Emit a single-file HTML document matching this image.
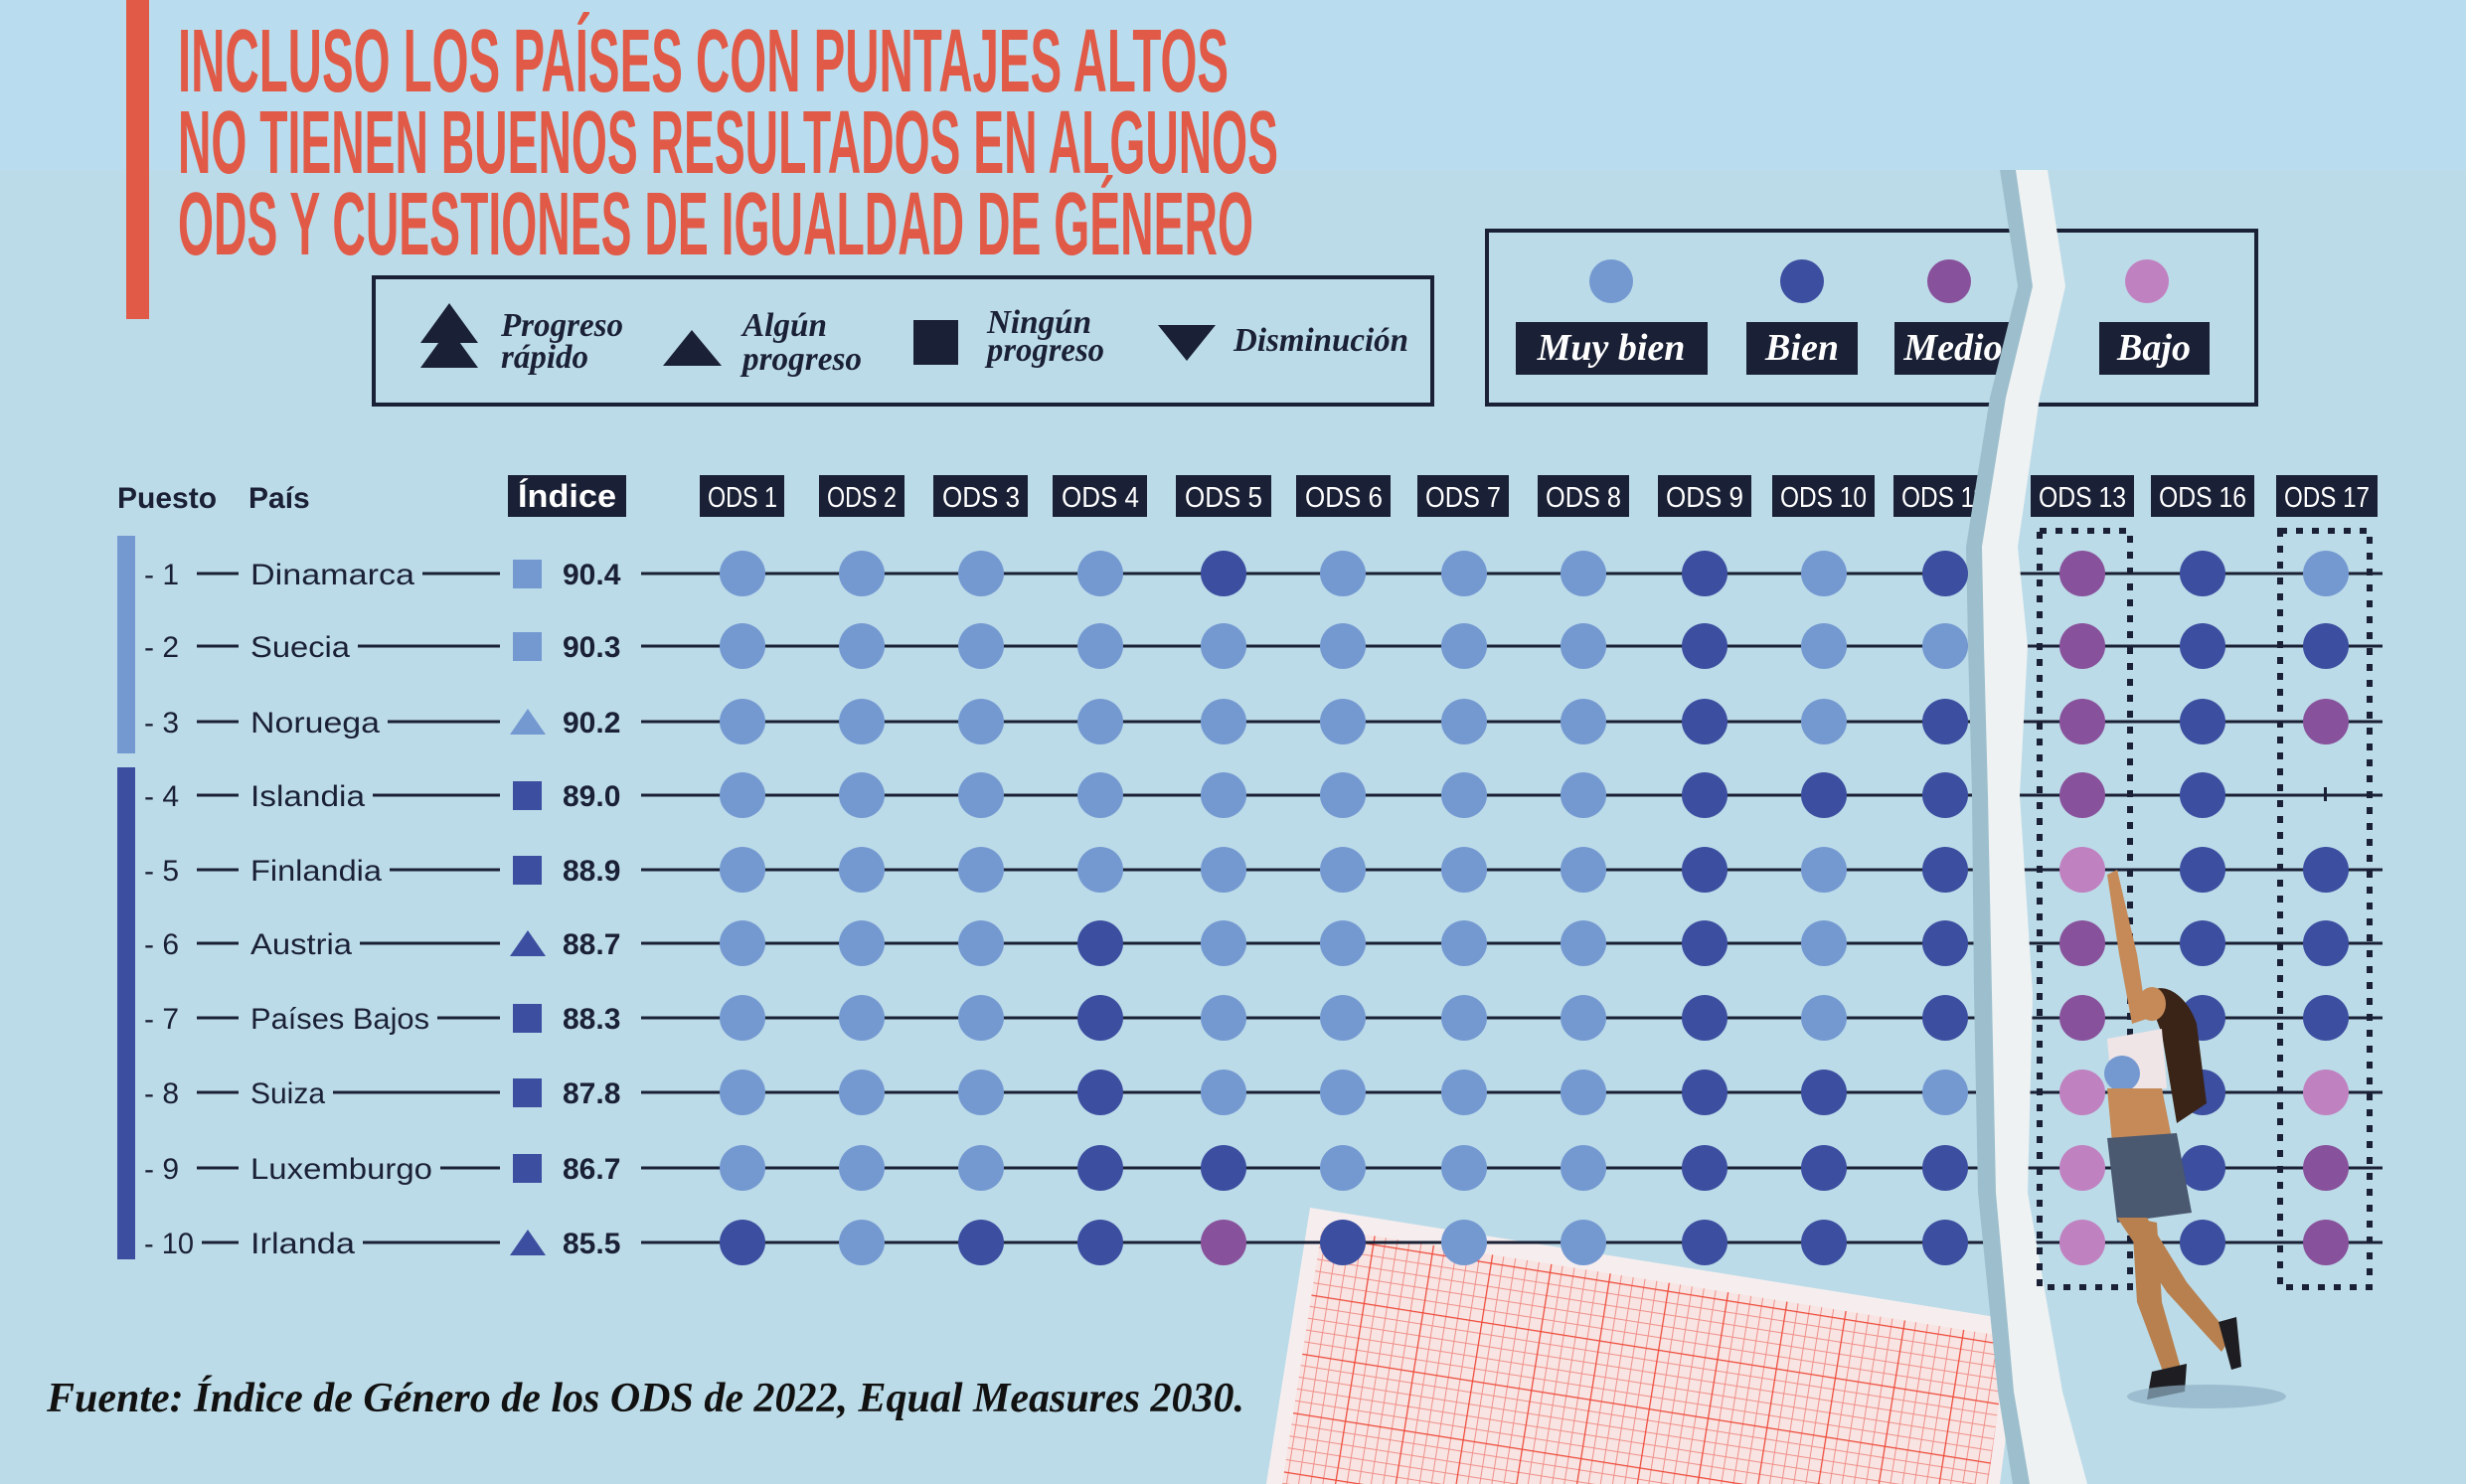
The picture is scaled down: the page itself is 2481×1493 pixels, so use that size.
<!DOCTYPE html>
<html><head><meta charset="utf-8"><style>
html,body{margin:0;padding:0;background:#bcdce9}
svg{display:block}
.s{font-family:"Liberation Sans",sans-serif}
.r{font-family:"Liberation Serif",serif;font-style:italic;font-weight:bold}
.L{fill:#7499d1}.B{fill:#3b4ea0}.M{fill:#88519b}.P{fill:#c081c0}
</style></head><body>
<svg width="2481" height="1493" viewBox="0 0 2481 1493" xmlns="http://www.w3.org/2000/svg">
<rect width="2481" height="1493" fill="#bcdbe8"/>
<rect width="2481" height="171" fill="#b9ddee"/>
<rect x="127" y="0" width="23" height="321" fill="#e05a47"/>
<g class="s" font-weight="bold" font-size="90" fill="#e05a47">
<text x="179" y="92" textLength="1057" lengthAdjust="spacingAndGlyphs">INCLUSO LOS PAÍSES CON PUNTAJES ALTOS</text>
<text x="179" y="174" textLength="1107" lengthAdjust="spacingAndGlyphs">NO TIENEN BUENOS RESULTADOS EN ALGUNOS</text>
<text x="179" y="256" textLength="1082" lengthAdjust="spacingAndGlyphs">ODS Y CUESTIONES DE IGUALDAD DE GÉNERO</text>
</g>
<!-- graph paper -->
<polygon points="1318,1215 2033,1329 2012,1493 1274,1493" fill="#f6eeee"/>
<defs><pattern id="gp" width="60" height="60" patternUnits="userSpaceOnUse" patternTransform="rotate(9)">
<rect width="60" height="60" fill="#f8e4e2"/>
<path d="M0 0H60M0 12H60M0 24H60M0 36H60M0 48H60M0 0V60M12 0V60M24 0V60M36 0V60M48 0V60" stroke="#f0908a" stroke-width="1"/>
<path d="M0 0H60M0 0V60" stroke="#ee4a3a" stroke-width="2.5"/></pattern></defs>
<polygon points="1330,1235 2020,1345 2000,1493 1290,1493" fill="url(#gp)"/>
<!-- legend 1 -->
<rect x="376" y="279" width="1065" height="128" fill="none" stroke="#1a2035" stroke-width="4"/>
<g fill="#1a2035">
<polygon points="452,305 481,345 423,345"/><polygon points="452,330 481,370 423,370"/>
<polygon points="696,332 726,368 667,368"/>
<rect x="919" y="322" width="45" height="45"/>
<polygon points="1165,327 1223,327 1194,363"/>
</g>
<g class="r" font-size="34" fill="#1a2035">
<text x="504" y="338" textLength="123" lengthAdjust="spacingAndGlyphs">Progreso</text>
<text x="504" y="370" textLength="88" lengthAdjust="spacingAndGlyphs">rápido</text>
<text x="747" y="338" textLength="85" lengthAdjust="spacingAndGlyphs">Algún</text>
<text x="747" y="372" textLength="120" lengthAdjust="spacingAndGlyphs">progreso</text>
<text x="993" y="335" textLength="105" lengthAdjust="spacingAndGlyphs">Ningún</text>
<text x="993" y="363" textLength="118" lengthAdjust="spacingAndGlyphs">progreso</text>
<text x="1241" y="353" textLength="176" lengthAdjust="spacingAndGlyphs">Disminución</text>
</g>
<!-- legend 2 -->
<rect x="1496" y="232" width="774" height="175" fill="none" stroke="#1a2035" stroke-width="4"/>
<circle cx="1621" cy="283" r="22" class="L"/><circle cx="1813" cy="283" r="22" class="B"/>
<circle cx="1961" cy="283" r="22" class="M"/><circle cx="2160" cy="283" r="22" class="P"/>
<g fill="#1a2035"><rect x="1525" y="324" width="193" height="53"/><rect x="1757" y="324" width="112" height="53"/><rect x="1906" y="324" width="118" height="53"/><rect x="2112" y="324" width="111" height="53"/></g>
<g class="r" font-size="38" fill="#fff" text-anchor="middle">
<text x="1621" y="362">Muy bien</text><text x="1813" y="362">Bien</text><text x="1965" y="362">Medio</text><text x="2167" y="362">Bajo</text>
</g>
<!-- header -->
<g class="s" font-weight="bold" font-size="30" fill="#1a2035">
<text x="118" y="511">Puesto</text><text x="250" y="511">País</text></g>
<g fill="#1a2035">
<rect x="511" y="478" width="119" height="42"/>
<rect x="704" y="478" width="85" height="42"/><rect x="824" y="478" width="86" height="42"/><rect x="939" y="478" width="95" height="42"/><rect x="1059" y="478" width="95" height="42"/><rect x="1183" y="478" width="96" height="42"/><rect x="1304" y="478" width="95" height="42"/><rect x="1426" y="478" width="92" height="42"/><rect x="1547" y="478" width="92" height="42"/><rect x="1668" y="478" width="94" height="42"/><rect x="1783" y="478" width="103" height="42"/><rect x="1905" y="478" width="103" height="42"/><rect x="2043" y="478" width="104" height="42"/><rect x="2164" y="478" width="104" height="42"/><rect x="2290" y="478" width="102" height="42"/>
</g>
<g class="s" font-size="29" fill="#fff">
<text x="521" y="510" font-weight="bold" font-size="32" textLength="99" lengthAdjust="spacingAndGlyphs">Índice</text>
<text x="712" y="510" textLength="70" lengthAdjust="spacingAndGlyphs">ODS 1</text>
<text x="832" y="510" textLength="70" lengthAdjust="spacingAndGlyphs">ODS 2</text>
<text x="948" y="510" textLength="78" lengthAdjust="spacingAndGlyphs">ODS 3</text>
<text x="1068" y="510" textLength="78" lengthAdjust="spacingAndGlyphs">ODS 4</text>
<text x="1192" y="510" textLength="78" lengthAdjust="spacingAndGlyphs">ODS 5</text>
<text x="1313" y="510" textLength="78" lengthAdjust="spacingAndGlyphs">ODS 6</text>
<text x="1434" y="510" textLength="76" lengthAdjust="spacingAndGlyphs">ODS 7</text>
<text x="1555" y="510" textLength="76" lengthAdjust="spacingAndGlyphs">ODS 8</text>
<text x="1676" y="510" textLength="78" lengthAdjust="spacingAndGlyphs">ODS 9</text>
<text x="1791" y="510" textLength="87" lengthAdjust="spacingAndGlyphs">ODS 10</text>
<text x="1913" y="510" textLength="85" lengthAdjust="spacingAndGlyphs">ODS 11</text>
<text x="2051" y="510" textLength="88" lengthAdjust="spacingAndGlyphs">ODS 13</text>
<text x="2172" y="510" textLength="88" lengthAdjust="spacingAndGlyphs">ODS 16</text>
<text x="2298" y="510" textLength="86" lengthAdjust="spacingAndGlyphs">ODS 17</text>
</g>
<!-- left bars -->
<rect x="118" y="539" width="18" height="219" fill="#7499d1"/>
<rect x="118" y="772" width="18" height="495" fill="#3b4ea0"/>
<!-- rows lines -->
<g stroke="#1a2035" stroke-width="3">
<path d="M198 577H240M425 577H503M645 577H2397"/>
<path d="M198 650H240M360 650H503M645 650H2397"/>
<path d="M198 726H240M390 726H503M645 726H2397"/>
<path d="M198 800H240M375 800H503M645 800H2397"/>
<path d="M198 875H240M392 875H503M645 875H2397"/>
<path d="M198 949H240M362 949H503M645 949H2397"/>
<path d="M198 1024H240M440 1024H503M645 1024H2397"/>
<path d="M198 1099H240M335 1099H503M645 1099H2397"/>
<path d="M198 1175H240M443 1175H503M645 1175H2397"/>
<path d="M203 1250H240M365 1250H503M645 1250H2397"/>
</g>
<g class="s" font-size="30" fill="#1a2035">
<text x="145" y="588">- 1</text><text x="252" y="588" textLength="165" lengthAdjust="spacingAndGlyphs">Dinamarca</text>
<text x="145" y="661">- 2</text><text x="252" y="661" textLength="100" lengthAdjust="spacingAndGlyphs">Suecia</text>
<text x="145" y="737">- 3</text><text x="252" y="737" textLength="130" lengthAdjust="spacingAndGlyphs">Noruega</text>
<text x="145" y="811">- 4</text><text x="252" y="811" textLength="115" lengthAdjust="spacingAndGlyphs">Islandia</text>
<text x="145" y="886">- 5</text><text x="252" y="886" textLength="132" lengthAdjust="spacingAndGlyphs">Finlandia</text>
<text x="145" y="960">- 6</text><text x="252" y="960" textLength="102" lengthAdjust="spacingAndGlyphs">Austria</text>
<text x="145" y="1035">- 7</text><text x="252" y="1035" textLength="180" lengthAdjust="spacingAndGlyphs">Países Bajos</text>
<text x="145" y="1110">- 8</text><text x="252" y="1110" textLength="75" lengthAdjust="spacingAndGlyphs">Suiza</text>
<text x="145" y="1186">- 9</text><text x="252" y="1186" textLength="183" lengthAdjust="spacingAndGlyphs">Luxemburgo</text>
<text x="145" y="1261" textLength="50" lengthAdjust="spacingAndGlyphs">- 10</text><text x="252" y="1261" textLength="105" lengthAdjust="spacingAndGlyphs">Irlanda</text>
</g>
<g class="s" font-size="30" font-weight="bold" fill="#1a2035">
<text x="566" y="588">90.4</text><text x="566" y="661">90.3</text><text x="566" y="737">90.2</text><text x="566" y="811">89.0</text><text x="566" y="886">88.9</text><text x="566" y="960">88.7</text><text x="566" y="1035">88.3</text><text x="566" y="1110">87.8</text><text x="566" y="1186">86.7</text><text x="566" y="1261">85.5</text>
</g>
<rect x="516" y="563" width="29" height="29" class="L"/>
<rect x="516" y="636" width="29" height="29" class="L"/>
<polygon points="531,713 549,739 513,739" class="L"/>
<rect x="516" y="786" width="29" height="29" class="B"/>
<rect x="516" y="861" width="29" height="29" class="B"/>
<polygon points="531,936 549,962 513,962" class="B"/>
<rect x="516" y="1010" width="29" height="29" class="B"/>
<rect x="516" y="1085" width="29" height="29" class="B"/>
<rect x="516" y="1161" width="29" height="29" class="B"/>
<polygon points="531,1237 549,1263 513,1263" class="B"/>
<!-- torn strip -->
<path d="M2012,171 L2030,288 L2002,400 L1978,550 L1980,650 L1984,800 L1986,1000 L1990,1200 L2010,1400 L2025,1493 L2045,1493 L2030,1400 L2012,1200 L2008,1000 L2006,800 L2002,650 L2000,550 L2025,400 L2048,288 L2030,171Z" fill="#9dbfcd"/>
<path d="M2028,171 L2045,288 L2018,400 L1994,550 L1996,650 L2000,800 L2004,1000 L2008,1200 L2026,1400 L2042,1493 L2100,1493 L2075,1400 L2040,1200 L2045,1000 L2032,800 L2040,650 L2030,550 L2052,400 L2078,288 L2060,171Z" fill="#eef2f3"/>
<!-- circles -->
<g>
<circle cx="747" cy="577" r="23" class="L"/><circle cx="867" cy="577" r="23" class="L"/><circle cx="987" cy="577" r="23" class="L"/><circle cx="1107" cy="577" r="23" class="L"/><circle cx="1231" cy="577" r="23" class="B"/><circle cx="1351" cy="577" r="23" class="L"/><circle cx="1473" cy="577" r="23" class="L"/><circle cx="1593" cy="577" r="23" class="L"/><circle cx="1715" cy="577" r="23" class="B"/><circle cx="1835" cy="577" r="23" class="L"/><circle cx="1957" cy="577" r="23" class="B"/><circle cx="2095" cy="577" r="23" class="M"/><circle cx="2216" cy="577" r="23" class="B"/><circle cx="2340" cy="577" r="23" class="L"/>
<circle cx="747" cy="650" r="23" class="L"/><circle cx="867" cy="650" r="23" class="L"/><circle cx="987" cy="650" r="23" class="L"/><circle cx="1107" cy="650" r="23" class="L"/><circle cx="1231" cy="650" r="23" class="L"/><circle cx="1351" cy="650" r="23" class="L"/><circle cx="1473" cy="650" r="23" class="L"/><circle cx="1593" cy="650" r="23" class="L"/><circle cx="1715" cy="650" r="23" class="B"/><circle cx="1835" cy="650" r="23" class="L"/><circle cx="1957" cy="650" r="23" class="L"/><circle cx="2095" cy="650" r="23" class="M"/><circle cx="2216" cy="650" r="23" class="B"/><circle cx="2340" cy="650" r="23" class="B"/>
<circle cx="747" cy="726" r="23" class="L"/><circle cx="867" cy="726" r="23" class="L"/><circle cx="987" cy="726" r="23" class="L"/><circle cx="1107" cy="726" r="23" class="L"/><circle cx="1231" cy="726" r="23" class="L"/><circle cx="1351" cy="726" r="23" class="L"/><circle cx="1473" cy="726" r="23" class="L"/><circle cx="1593" cy="726" r="23" class="L"/><circle cx="1715" cy="726" r="23" class="B"/><circle cx="1835" cy="726" r="23" class="L"/><circle cx="1957" cy="726" r="23" class="B"/><circle cx="2095" cy="726" r="23" class="M"/><circle cx="2216" cy="726" r="23" class="B"/><circle cx="2340" cy="726" r="23" class="M"/>
<circle cx="747" cy="800" r="23" class="L"/><circle cx="867" cy="800" r="23" class="L"/><circle cx="987" cy="800" r="23" class="L"/><circle cx="1107" cy="800" r="23" class="L"/><circle cx="1231" cy="800" r="23" class="L"/><circle cx="1351" cy="800" r="23" class="L"/><circle cx="1473" cy="800" r="23" class="L"/><circle cx="1593" cy="800" r="23" class="L"/><circle cx="1715" cy="800" r="23" class="B"/><circle cx="1835" cy="800" r="23" class="B"/><circle cx="1957" cy="800" r="23" class="B"/><circle cx="2095" cy="800" r="23" class="M"/><circle cx="2216" cy="800" r="23" class="B"/><rect x="2338" y="792" width="3" height="14" fill="#1a2035"/>
<circle cx="747" cy="875" r="23" class="L"/><circle cx="867" cy="875" r="23" class="L"/><circle cx="987" cy="875" r="23" class="L"/><circle cx="1107" cy="875" r="23" class="L"/><circle cx="1231" cy="875" r="23" class="L"/><circle cx="1351" cy="875" r="23" class="L"/><circle cx="1473" cy="875" r="23" class="L"/><circle cx="1593" cy="875" r="23" class="L"/><circle cx="1715" cy="875" r="23" class="B"/><circle cx="1835" cy="875" r="23" class="L"/><circle cx="1957" cy="875" r="23" class="B"/><circle cx="2095" cy="875" r="23" class="P"/><circle cx="2216" cy="875" r="23" class="B"/><circle cx="2340" cy="875" r="23" class="B"/>
<circle cx="747" cy="949" r="23" class="L"/><circle cx="867" cy="949" r="23" class="L"/><circle cx="987" cy="949" r="23" class="L"/><circle cx="1107" cy="949" r="23" class="B"/><circle cx="1231" cy="949" r="23" class="L"/><circle cx="1351" cy="949" r="23" class="L"/><circle cx="1473" cy="949" r="23" class="L"/><circle cx="1593" cy="949" r="23" class="L"/><circle cx="1715" cy="949" r="23" class="B"/><circle cx="1835" cy="949" r="23" class="L"/><circle cx="1957" cy="949" r="23" class="B"/><circle cx="2095" cy="949" r="23" class="M"/><circle cx="2216" cy="949" r="23" class="B"/><circle cx="2340" cy="949" r="23" class="B"/>
<circle cx="747" cy="1024" r="23" class="L"/><circle cx="867" cy="1024" r="23" class="L"/><circle cx="987" cy="1024" r="23" class="L"/><circle cx="1107" cy="1024" r="23" class="B"/><circle cx="1231" cy="1024" r="23" class="L"/><circle cx="1351" cy="1024" r="23" class="L"/><circle cx="1473" cy="1024" r="23" class="L"/><circle cx="1593" cy="1024" r="23" class="L"/><circle cx="1715" cy="1024" r="23" class="B"/><circle cx="1835" cy="1024" r="23" class="L"/><circle cx="1957" cy="1024" r="23" class="B"/><circle cx="2095" cy="1024" r="23" class="M"/><circle cx="2216" cy="1024" r="23" class="B"/><circle cx="2340" cy="1024" r="23" class="B"/>
<circle cx="747" cy="1099" r="23" class="L"/><circle cx="867" cy="1099" r="23" class="L"/><circle cx="987" cy="1099" r="23" class="L"/><circle cx="1107" cy="1099" r="23" class="B"/><circle cx="1231" cy="1099" r="23" class="L"/><circle cx="1351" cy="1099" r="23" class="L"/><circle cx="1473" cy="1099" r="23" class="L"/><circle cx="1593" cy="1099" r="23" class="L"/><circle cx="1715" cy="1099" r="23" class="B"/><circle cx="1835" cy="1099" r="23" class="B"/><circle cx="1957" cy="1099" r="23" class="L"/><circle cx="2095" cy="1099" r="23" class="P"/><circle cx="2216" cy="1099" r="23" class="B"/><circle cx="2340" cy="1099" r="23" class="P"/>
<circle cx="747" cy="1175" r="23" class="L"/><circle cx="867" cy="1175" r="23" class="L"/><circle cx="987" cy="1175" r="23" class="L"/><circle cx="1107" cy="1175" r="23" class="B"/><circle cx="1231" cy="1175" r="23" class="B"/><circle cx="1351" cy="1175" r="23" class="L"/><circle cx="1473" cy="1175" r="23" class="L"/><circle cx="1593" cy="1175" r="23" class="L"/><circle cx="1715" cy="1175" r="23" class="B"/><circle cx="1835" cy="1175" r="23" class="B"/><circle cx="1957" cy="1175" r="23" class="B"/><circle cx="2095" cy="1175" r="23" class="P"/><circle cx="2216" cy="1175" r="23" class="B"/><circle cx="2340" cy="1175" r="23" class="M"/>
<circle cx="747" cy="1250" r="23" class="B"/><circle cx="867" cy="1250" r="23" class="L"/><circle cx="987" cy="1250" r="23" class="B"/><circle cx="1107" cy="1250" r="23" class="B"/><circle cx="1231" cy="1250" r="23" class="M"/><circle cx="1351" cy="1250" r="23" class="B"/><circle cx="1473" cy="1250" r="23" class="L"/><circle cx="1593" cy="1250" r="23" class="L"/><circle cx="1715" cy="1250" r="23" class="B"/><circle cx="1835" cy="1250" r="23" class="B"/><circle cx="1957" cy="1250" r="23" class="B"/><circle cx="2095" cy="1250" r="23" class="P"/><circle cx="2216" cy="1250" r="23" class="B"/><circle cx="2340" cy="1250" r="23" class="M"/>
</g>
<!-- dotted boxes -->
<g fill="none" stroke="#1a2035" stroke-width="6" stroke-dasharray="7 9">
<rect x="2052" y="534" width="91" height="761"/>
<rect x="2294" y="534" width="90" height="761"/>
</g>
<!-- girl (rough) -->
<g>
<path d="M2120,880 L2130,875 L2150,960 L2160,1025 L2145,1030 L2132,960Z" fill="#c58a58"/>
<path d="M2160,1000 C2175,985 2200,1000 2210,1030 L2220,1110 L2190,1130 L2175,1040Z" fill="#3a2418"/>
<ellipse cx="2165" cy="1010" rx="14" ry="17" fill="#c58a58"/>
<path d="M2120,1045 L2175,1035 L2180,1095 L2125,1100Z" fill="#efe4e6"/>
<circle cx="2135" cy="1080" r="18" fill="#7499d1"/>
<path d="M2120,1095 L2175,1095 L2185,1145 L2125,1150Z" fill="#c58a58"/>
<path d="M2120,1145 L2190,1140 L2205,1220 L2130,1230Z" fill="#4a5870"/>
<path d="M2130,1225 L2160,1225 L2200,1290 L2245,1345 L2235,1360 L2180,1300Z" fill="#b8804e"/>
<path d="M2145,1225 L2170,1230 L2175,1310 L2195,1380 L2178,1385 L2150,1310Z" fill="#b8804e"/>
<path d="M2232,1330 L2250,1325 L2255,1375 L2245,1378Z" fill="#1e1e22"/>
<path d="M2165,1380 L2200,1372 L2198,1400 L2160,1408Z" fill="#1e1e22"/>
<ellipse cx="2220" cy="1405" rx="80" ry="12" fill="#8fb0c4" opacity="0.7"/>
</g>
<text class="r" x="47" y="1420" font-size="42" fill="#111" textLength="1205" lengthAdjust="spacingAndGlyphs">Fuente: Índice de Género de los ODS de 2022, Equal Measures 2030.</text>
</svg>
</body></html>
